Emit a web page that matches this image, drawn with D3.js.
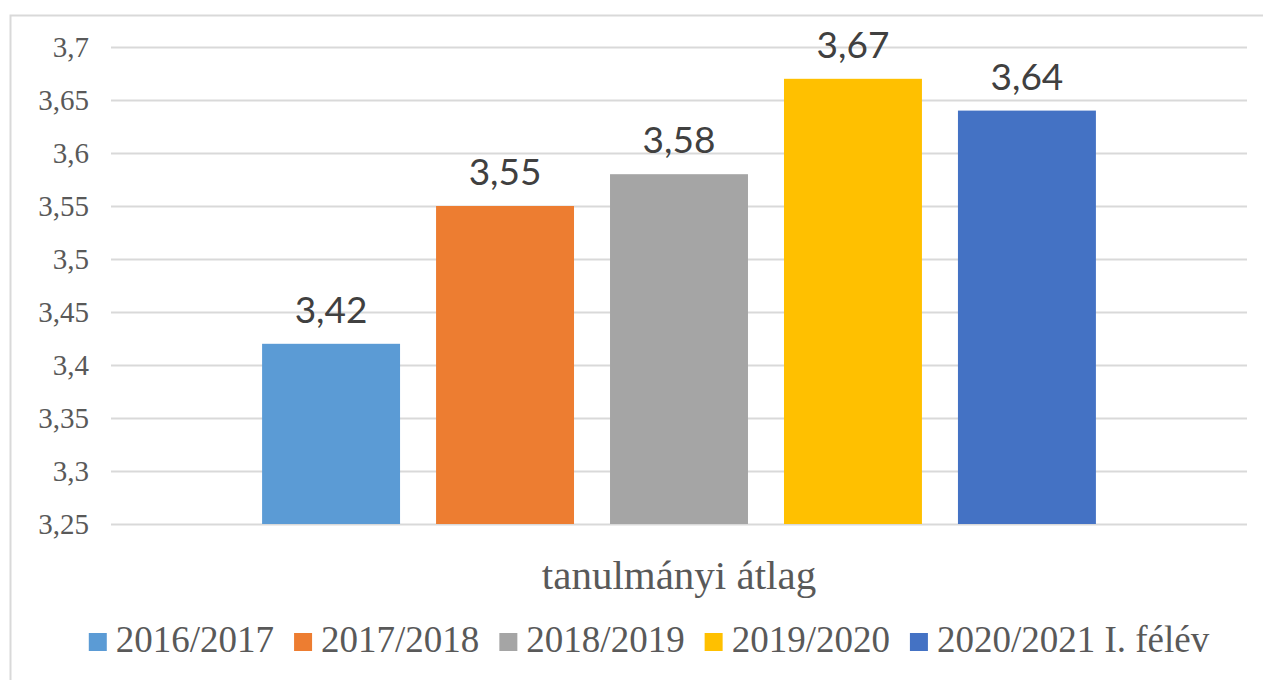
<!DOCTYPE html>
<html lang="hu">
<head>
<meta charset="UTF-8">
<script src="https://d3js.org/d3.v7.min.js"></script>
<style>
  body { margin: 0; background: #fff; }
  svg { display: block; }
</style>
</head>
<body>
<div id="chart"></div>
<script>
    // adatok
    const category = "tanulmányi átlag"
    const series = ["2016/2017", "2017/2018", "2018/2019", "2019/2020", "2020/2021 I. félév"]
    const values = [3.42, 3.55, 3.58, 3.67, 3.64]
    const yTicks = [3.25, 3.3, 3.35, 3.4, 3.45, 3.5, 3.55, 3.6, 3.65, 3.7]
    const colors = ["#5B9BD5", "#ED7D31", "#A5A5A5", "#FFC000", "#4472C4"]

    const W = 1263, H = 680
    const plot = {left: 111, right: 1247, top: 47, bottom: 524}
    const serif = '"Liberation Serif", Tinos, "Times New Roman", "DejaVu Serif", serif'
    const sans = 'Lato, Carlito, Calibri, sans-serif'

    const svg = d3.select("#chart").append("svg")
        .attr("width", W).attr("height", H)

    // keret
    svg.append("rect")
        .attr("x", 10.5).attr("y", 15.5)
        .attr("width", 1400).attr("height", 800)
        .attr("fill", "none").attr("stroke", "#D9D9D9").attr("stroke-width", 2)

    const y = d3.scaleLinear()
        .domain([3.25, 3.7])
        .range([plot.bottom, plot.top])

    const x0 = d3.scaleBand()
        .domain([category])
        .range([plot.left, plot.right])
        .paddingInner(0)
        .paddingOuter(0.153)

    const x1 = d3.scaleBand()
        .domain(series)
        .range([0, x0.bandwidth()])
        .paddingInner(0.207)
        .paddingOuter(0.1035)

    const fmt = d => String(+d.toFixed(2)).replace(".", ",")

    // rácsvonalak
    svg.append("g")
        .attr("transform", "translate(" + plot.left + ",0)")
        .call(d3.axisLeft(y).tickValues(yTicks).tickSize(-(plot.right - plot.left)).tickFormat(""))
        .call(g => g.select(".domain").remove())
        .call(g => g.selectAll("line").attr("stroke", "#D9D9D9").attr("stroke-width", 2))

    // y tengely feliratok
    svg.append("g")
        .selectAll("text")
        .data(yTicks)
        .enter()
        .append("text")
        .attr("x", plot.left - 22)
        .attr("y", d => y(d))
        .attr("dy", "0.34em")
        .attr("text-anchor", "end")
        .style("font-family", serif).style("font-size", "29px")
        .attr("fill", "#595959")
        .text(fmt)

    const grp = svg.append("g")
        .attr("transform", "translate(" + x0(category) + ",0)")

    grp.selectAll("rect")
        .data(values)
        .enter()
        .append("rect")
        .attr("x", (d, i) => x1(series[i]))
        .attr("y", d => y(d))
        .attr("width", x1.bandwidth())
        .attr("height", d => y(3.25) - y(d))
        .attr("fill", (d, i) => colors[i])

    grp.selectAll("text.val")
        .data(values)
        .enter()
        .append("text")
        .attr("class", "val")
        .attr("x", (d, i) => x1(series[i]) + x1.bandwidth() / 2)
        .attr("y", d => y(d) - 21)
        .attr("text-anchor", "middle")
        .style("font-family", sans).style("font-size", "37px")
        .attr("fill", "#404040")
        .text(d => fmt(d))

    // kategória felirat
    svg.append("text")
        .attr("x", x0(category) + x0.bandwidth() / 2)
        .attr("y", 589)
        .attr("text-anchor", "middle")
        .style("font-family", serif).style("font-size", "41px")
        .attr("fill", "#595959")
        .text(category)

    // jelmagyarázat
    const legend = svg.append("g")
    const sw = 18, gapText = 9, gapItem = 20
    let cx = 0
    series.forEach((s, i) => {
        const it = legend.append("g").attr("transform", "translate(" + cx + ",0)")
        it.append("rect").attr("x", 0).attr("y", -19).attr("width", sw).attr("height", sw).attr("fill", colors[i])
        const t = it.append("text")
            .attr("x", sw + gapText).attr("y", 0)
            .style("font-family", serif).style("font-size", "37px")
            .attr("fill", "#595959")
            .text(s)
        cx += sw + gapText + t.node().getComputedTextLength() + gapItem
    })
    const legW = cx - gapItem
    legend.attr("transform", "translate(" + (649 - legW / 2) + ",652)")
</script>
</body>
</html>
